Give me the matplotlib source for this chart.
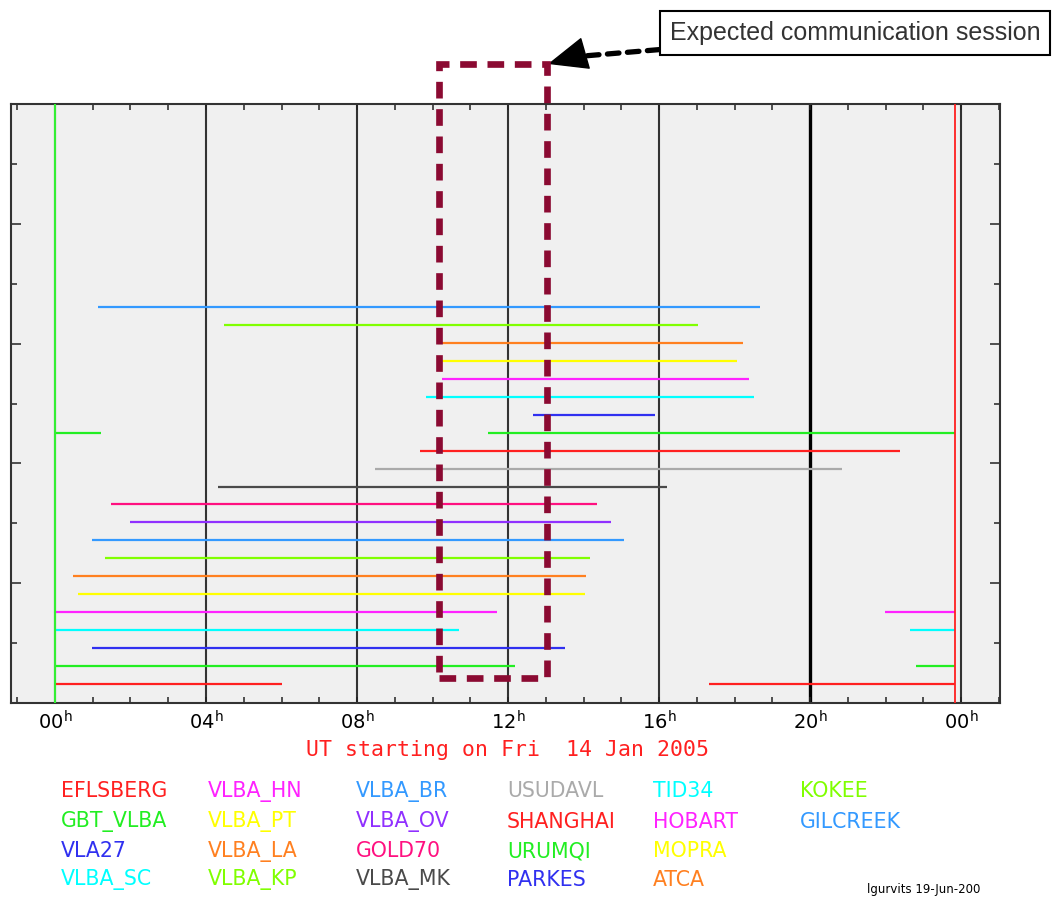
import numpy as np
import matplotlib.pyplot as plt
from matplotlib.patches import Rectangle

# Stations, bottom row first (same order as the colour key)
stations = ['EFLSBERG', 'GBT_VLBA', 'VLA27', 'VLBA_SC', 'VLBA_HN', 'VLBA_PT',
            'VLBA_LA', 'VLBA_KP', 'VLBA_BR', 'VLBA_OV', 'GOLD70', 'VLBA_MK',
            'USUDAVL', 'SHANGHAI', 'URUMQI', 'PARKES', 'TID34', 'HOBART',
            'MOPRA', 'ATCA', 'KOKEE', 'GILCREEK']
colors = ['#ff2020', '#22ee22', '#3030f0', '#00ffff', '#ff22ff', '#ffff00',
          '#ff8020', '#80ff00', '#3399ff', '#9030ff', '#ff1080', '#4a4a4a',
          '#aaaaaa', '#ff2020', '#22ee22', '#3030f0', '#00ffff', '#ff22ff',
          '#ffff00', '#ff8020', '#80ff00', '#3399ff']

# visibility windows in UT hours: one list of (rise, set) per station
windows = [
    [(0.0, 6.01), (17.32, 23.83)],
    [(0.0, 12.18), (22.80, 23.83)],
    [(0.98, 13.51)],
    [(0.0, 10.70), (22.64, 23.83)],
    [(0.0, 11.71), (21.98, 23.83)],
    [(0.61, 14.04)],
    [(0.48, 14.06)],
    [(1.32, 14.17)],
    [(0.98, 15.07)],
    [(1.99, 14.72)],
    [(1.48, 14.35)],
    [(4.32, 16.21)],
    [(8.47, 20.84)],
    [(9.67, 22.38)],
    [(0.0, 1.22), (11.47, 23.83)],
    [(12.66, 15.89)],
    [(9.83, 18.51)],
    [(10.25, 18.38)],
    [(10.25, 18.06)],
    [(10.14, 18.22)],
    [(4.48, 17.03)],
    [(1.14, 18.67)],
]

exp_start = 0.0
exp_end = 23.83
session_start = 10.17
session_end = 13.04

hour_ticks = [0, 4, 8, 12, 16, 20, 24]
hour_labels = ['00', '04', '08', '12', '16', '20', '00']

fig = plt.figure(figsize=(10.53, 9.01), dpi=100)
W, H = 1053, 901
ax = fig.add_axes([11 / W, 1 - 703 / H, 989 / W, 599 / H])
ax.set_facecolor('#f0f0f0')
ax.set_xlim(-1.165, 25.03)
ax.set_ylim(-1.058, 32.31)

# hour grid
for h in hour_ticks:
    ax.axvline(h, color='black' if h == 20 else '#333333',
               lw=2.4 if h == 20 else 1.5, zorder=1)

ax.axvline(exp_start, color='#33ee33', lw=1.5, zorder=3)
ax.axvline(exp_end, color='#ff2020', lw=1.3, zorder=3)

for i, segs in enumerate(windows):
    for s, e in segs:
        ax.plot([s, e], [i, i], color=colors[i], lw=1.6, solid_capstyle='butt', zorder=2)

# expected communication session box
ax.add_patch(Rectangle((session_start, 0.042), session_end - session_start, 1.067 - 0.042,
                       transform=ax.get_xaxis_transform(), fill=False, ec='#8b0a32',
                       lw=4.8, ls=(0, (2.5, 1.6)), clip_on=False, zorder=6))

tip = (548, H - 64)
ax.annotate('Expected communication session',
            xy=(572, H - 57), xycoords='figure pixels',
            xytext=(855, H - 33), textcoords='figure pixels',
            ha='center', va='center', fontsize=18, family='Liberation Sans', color='#333333',
            bbox=dict(boxstyle='square,pad=0.4', fc='white', ec='black', lw=1.5),
            arrowprops=dict(arrowstyle='-', lw=3.8, linestyle=(0, (2.2, 1.6)),
                            color='black', shrinkA=0, shrinkB=0))
ax.annotate('', xy=tip, xycoords='figure pixels',
            xytext=(576, H - 56), textcoords='figure pixels',
            arrowprops=dict(arrowstyle='-|>,head_length=1.2,head_width=0.5', lw=1,
                            color='black', mutation_scale=22, shrinkA=0, shrinkB=0))

# axes and ticks
for sp in ax.spines.values():
    sp.set_color('#333333')
    sp.set_linewidth(1.5)

ax.set_xticks(hour_ticks, [r'$\mathregular{%s^h}$' % s for s in hour_labels])
ax.set_xticks(np.arange(-1, 26), minor=True)
ax.tick_params(axis='x', which='both', direction='in', top=True, length=4.3,
               width=1.1, color='#222222', labelsize=14, pad=5)

ylo, yhi = ax.get_ylim()
ypos = np.linspace(ylo, yhi, 11)[1:-1]
ax.set_yticks(ypos[1::2], [])
ax.set_yticks(ypos[0::2], minor=True)
ax.tick_params(axis='y', which='major', direction='in', right=True, length=7.2,
               width=1.1, color='#222222')
ax.tick_params(axis='y', which='minor', direction='in', right=True, length=4.0,
               width=1.1, color='#222222')

ax.set_xlabel('UT starting on Fri  14 Jan 2005', color='#ff2020', fontsize=15.5,
              family='DejaVu Sans Mono', va='center')
ax.xaxis.set_label_coords((508 - 11) / 989, (703 - 750) / 599)

# colour key
key_x = [61, 208, 356, 507, 653, 800]
key_y = [791, 822, 851, 880]
for i, name in enumerate(stations):
    fig.text(key_x[i // 4] / W, 1 - key_y[i % 4] / H, name, color=colors[i],
             fontsize=14.8, ha='left', va='center')

fig.text(867 / W, 1 - 890 / H, 'lgurvits 19-Jun-200', fontsize=8.5, ha='left', va='center')

fig.savefig('out.png', dpi=100)
